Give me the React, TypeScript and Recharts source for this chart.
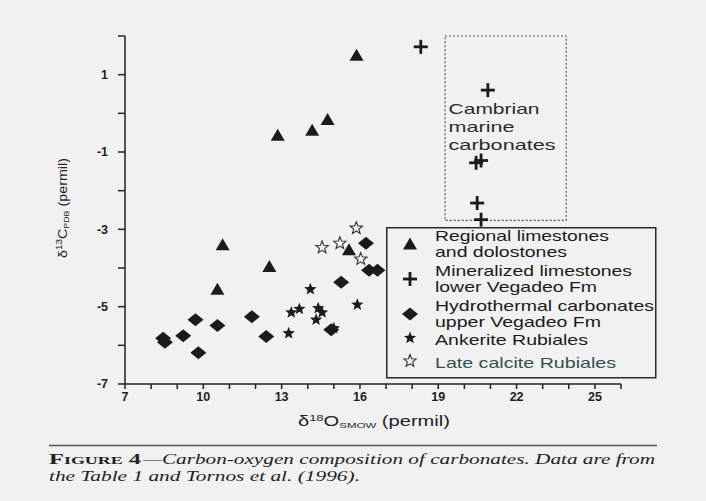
import React from "react";
import {
  ScatterChart,
  Scatter,
  XAxis,
  YAxis,
  Legend,
  ReferenceArea,
} from "recharts";

// d18O (x) vs d13C (y)
const regional = [
  { x: 15.87, y: 1.5 },
  { x: 12.85, y: -0.57 },
  { x: 14.17, y: -0.44 },
  { x: 14.76, y: -0.16 },
  { x: 10.74, y: -3.4 },
  { x: 12.53, y: -3.96 },
  { x: 10.54, y: -4.55 },
  { x: 15.58, y: -3.53 },
];

const mineralized = [
  { x: 18.33, y: 1.72 },
  { x: 20.9, y: 0.6 },
  { x: 20.45, y: -1.28 },
  { x: 20.64, y: -1.22 },
  { x: 20.49, y: -2.32 },
  { x: 20.64, y: -2.75 },
];

const hydrothermal = [
  { x: 8.46, y: -5.82 },
  { x: 8.53, y: -5.92 },
  { x: 9.23, y: -5.75 },
  { x: 9.7, y: -5.34 },
  { x: 9.81, y: -6.19 },
  { x: 10.54, y: -5.49 },
  { x: 11.86, y: -5.26 },
  { x: 12.41, y: -5.77 },
  { x: 14.9, y: -5.6 },
  { x: 15.28, y: -4.37 },
  { x: 16.23, y: -3.36 },
  { x: 16.35, y: -4.06 },
  { x: 16.67, y: -4.06 },
];

const ankerite = [
  { x: 14.1, y: -4.55 },
  { x: 13.37, y: -5.15 },
  { x: 13.68, y: -5.06 },
  { x: 14.4, y: -5.04 },
  { x: 14.55, y: -5.15 },
  { x: 14.32, y: -5.34 },
  { x: 13.27, y: -5.69 },
  { x: 15.0, y: -5.56 },
  { x: 15.9, y: -4.95 },
];

const lateCalcite = [
  { x: 15.86, y: -2.97 },
  { x: 14.55, y: -3.47 },
  { x: 15.23, y: -3.36 },
  { x: 16.03, y: -3.77 },
];

// Cambrian marine carbonates field (dashed box)
const cambrianX = [19.26, 23.9];
const cambrianY = [-2.77, 2];
const cambrianLines = ["Cambrian", "marine", "carbonates"];

const xTicks = [7, 8, 9, 10, 11, 12, 13, 14, 15, 16, 17, 18, 19, 20, 21, 22, 23, 24, 25, 26];
const xLabeled = [7, 10, 13, 16, 19, 22, 25];
const yTicks = [-7, -6, -5, -4, -3, -2, -1, 0, 1, 2];
const yLabeled = [-7, -5, -3, -1, 1];

const legendLines = [
  ["Regional limestones", "and dolostones"],
  ["Mineralized limestones", "lower Vegadeo Fm"],
  ["Hydrothermal carbonates", "upper Vegadeo Fm"],
  ["Ankerite Rubiales"],
  ["Late calcite Rubiales"],
];

const INK = "#1b1b1b";
const SANS = "'Liberation Sans', Arial, sans-serif";
const SERIF = "'Liberation Serif', 'Times New Roman', serif";

const starPath = (cx: number, cy: number, R: number, r: number) => {
  let d = "";
  for (let i = 0; i < 10; i++) {
    const a = ((-90 + i * 36) * Math.PI) / 180;
    const rad = i % 2 === 0 ? R : r;
    d += (i === 0 ? "M" : "L") + (cx + rad * Math.cos(a)).toFixed(2) + "," + (cy + rad * Math.sin(a)).toFixed(2);
  }
  return d + "Z";
};

const triangle = (cx: number, cy: number) => (
  <path d={`M${cx},${cy - 6.5} L${cx + 7},${cy + 5.5} L${cx - 7},${cy + 5.5} Z`} fill={INK} />
);
const plus = (cx: number, cy: number) => (
  <g stroke={INK} strokeWidth={2.8}>
    <line x1={cx - 7} y1={cy} x2={cx + 7} y2={cy} />
    <line x1={cx} y1={cy - 7} x2={cx} y2={cy + 7} />
  </g>
);
const diamond = (cx: number, cy: number) => (
  <path d={`M${cx},${cy - 6.5} L${cx + 8},${cy} L${cx},${cy + 6.5} L${cx - 8},${cy} Z`} fill={INK} />
);
const star = (cx: number, cy: number) => <path d={starPath(cx, cy, 6.5, 2.8)} fill={INK} />;
const hollowStar = (cx: number, cy: number) => (
  <path d={starPath(cx, cy, 6.5, 2.8)} fill="none" stroke="#333" strokeWidth={1.1} />
);

const markers = [triangle, plus, diamond, star, hollowStar];

const shapeOf = (fn: (cx: number, cy: number) => React.ReactElement) => (props: any) => fn(props.cx, props.cy);

// legend layout
const legendSymbolY = [17, 52, 87, 111, 134];
const legendBaselines = [[14, 30], [49, 65], [84, 100], [118], [141]];
const legendWidths = [[174, 132], [197, 162], [219, 166], [153], [181]];
const legendColors = [INK, INK, INK, INK, "#33504f"];

const LegendBox = () => (
  <svg width={272} height={152} style={{ display: "block" }}>
    <rect x={0.75} y={0.75} width={269} height={150} fill="none" stroke="#2a2a2a" strokeWidth={1.5} />
    {legendLines.map((lines, i) => (
      <g key={i}>
        {markers[i](24, legendSymbolY[i])}
        {lines.map((t, j) => (
          <text
            key={j}
            x={49}
            y={legendBaselines[i][j]}
            fontSize={14.5}
            fontFamily={SANS}
            fill={legendColors[i]}
            textLength={legendWidths[i][j]}
            lengthAdjust="spacingAndGlyphs"
          >
            {t}
          </text>
        ))}
      </g>
    ))}
  </svg>
);

const cambrianWidths = [91, 66, 107];
const CambrianLabel = (props: any) => {
  const vb = props.viewBox || {};
  return (
    <g>
      {cambrianLines.map((t, i) => (
        <text
          key={t}
          x={vb.x + 3.5}
          y={vb.y + 78 + i * 18}
          fontSize={15}
          fontFamily={SANS}
          fill="#2a2a2a"
          textLength={cambrianWidths[i]}
          lengthAdjust="spacingAndGlyphs"
        >
          {t}
        </text>
      ))}
    </g>
  );
};

const tickStyle = { fill: "#1e1e1e", fontSize: 12.5, fontWeight: 700, fontFamily: SANS };

export default function App() {
  return (
    <div style={{ position: "absolute", left: 0, top: 0, width: 706, height: 501, background: "#f1f1f1" }}>
      <ScatterChart width={706} height={501} margin={{ top: 36, right: 85, bottom: 87, left: 65 }}>
        <XAxis
          dataKey="x"
          type="number"
          domain={[7, 26]}
          ticks={xTicks}
          interval={0}
          allowDataOverflow
          tickFormatter={(v: number) => (xLabeled.includes(v) ? String(v) : "")}
          tickSize={5}
          tickMargin={3}
          height={30}
          stroke="#222"
          strokeWidth={1.5}
          tick={tickStyle}
        />
        <YAxis
          dataKey="y"
          type="number"
          domain={[-7, 2]}
          ticks={yTicks}
          interval={0}
          allowDataOverflow
          tickFormatter={(v: number) => (yLabeled.includes(v) ? String(v) : "")}
          tickSize={7}
          tickMargin={10}
          width={60}
          stroke="#222"
          strokeWidth={1.5}
          tick={tickStyle}
        />
        <ReferenceArea
          x1={cambrianX[0]}
          x2={cambrianX[1]}
          y1={cambrianY[0]}
          y2={cambrianY[1]}
          fill="none"
          fillOpacity={0}
          stroke="#555"
          strokeWidth={1.2}
          strokeDasharray="2 2"
          ifOverflow="visible"
          label={CambrianLabel}
        />
        <Scatter name="Regional limestones and dolostones" data={regional} shape={shapeOf(triangle)} isAnimationActive={false} />
        <Scatter name="Mineralized limestones lower Vegadeo Fm" data={mineralized} shape={shapeOf(plus)} isAnimationActive={false} />
        <Scatter name="Hydrothermal carbonates upper Vegadeo Fm" data={hydrothermal} shape={shapeOf(diamond)} isAnimationActive={false} />
        <Scatter name="Ankerite Rubiales" data={ankerite} shape={shapeOf(star)} isAnimationActive={false} />
        <Scatter name="Late calcite Rubiales" data={lateCalcite} shape={shapeOf(hollowStar)} isAnimationActive={false} />
        <Legend
          layout="vertical"
          align="center"
          verticalAlign="middle"
          content={() => <LegendBox />}
          wrapperStyle={{ left: 386, top: 227, width: 272, height: 152 }}
        />
      </ScatterChart>
      <svg width={706} height={501} style={{ position: "absolute", left: 0, top: 0, pointerEvents: "none" }}>
        <text
          transform="translate(67,258) rotate(-90)"
          fontSize={13}
          fontFamily={SANS}
          fill="#222"
          textLength={100}
          lengthAdjust="spacingAndGlyphs"
        >
          δ<tspan fontSize={9} dy={-5}>13</tspan>
          <tspan dy={5}>C</tspan>
          <tspan fontSize={8} dy={2}>PDB</tspan>
          <tspan dy={-2}> (permil)</tspan>
        </text>
        <text x={298} y={426} fontSize={14} fontFamily={SANS} fill="#222" textLength={152} lengthAdjust="spacingAndGlyphs">
          δ<tspan fontSize={9} dy={-5}>18</tspan>
          <tspan dy={5}>O</tspan>
          <tspan fontSize={8} dy={2}>SMOW</tspan>
          <tspan dy={-2}> (permil)</tspan>
        </text>
        <line x1={49} x2={657} y1={445.5} y2={445.5} stroke="#555" strokeWidth={1.3} />
        <text
          x={49}
          y={464}
          fontSize={15}
          fontFamily={SERIF}
          fontWeight={700}
          fill="#222"
          style={{ fontVariant: "small-caps" }}
          textLength={92}
          lengthAdjust="spacingAndGlyphs"
        >
          Figure 4
        </text>
        <text x={143} y={464} fontSize={15} fontFamily={SERIF} fontStyle="italic" fill="#222" textLength={512} lengthAdjust="spacingAndGlyphs">
          —Carbon-oxygen composition of carbonates. Data are from
        </text>
        <text x={49} y={481} fontSize={15} fontFamily={SERIF} fontStyle="italic" fill="#222" textLength={311} lengthAdjust="spacingAndGlyphs">
          the Table 1 and Tornos et al. (1996).
        </text>
      </svg>
    </div>
  );
}
